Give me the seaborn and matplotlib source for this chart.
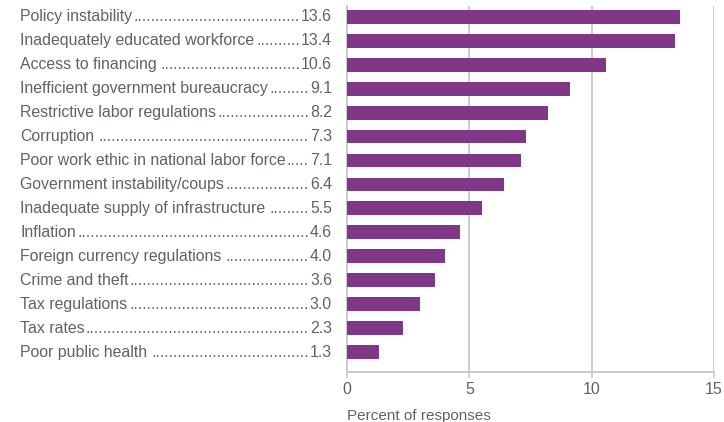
import matplotlib

matplotlib.use("Agg")

import matplotlib.pyplot as plt
import pandas as pd
import seaborn as sns

categories = [
    "Policy instability",
    "Inadequately educated workforce",
    "Access to financing",
    "Inefficient government bureaucracy",
    "Restrictive labor regulations",
    "Corruption",
    "Poor work ethic in national labor force",
    "Government instability/coups",
    "Inadequate supply of infrastructure",
    "Inflation",
    "Foreign currency regulations",
    "Crime and theft",
    "Tax regulations",
    "Tax rates",
    "Poor public health",
]
values = [13.6, 13.4, 10.6, 9.1, 8.2, 7.3, 7.1, 6.4, 5.5, 4.6, 4.0, 3.6, 3.0, 2.3, 1.3]
x_ticks = [0, 5, 10, 15]

BAR_COLOR = "#7f3786"
TEXT_COLOR = "#5d6369"
GRID_COLOR = "#c9cccf"

sns.set_theme(style="white")
plt.rcParams["font.family"] = ["Liberation Sans", "DejaVu Sans"]

frame = pd.DataFrame({"factor": categories, "pct": values})

W, H = 724, 422
fig = plt.figure(figsize=(W / 100, H / 100), dpi=100)
ax = fig.add_axes([347 / W, 1 - 372 / H, 367 / W, 366 / H])

sns.barplot(data=frame, x="pct", y="factor", color=BAR_COLOR, saturation=1,
            width=0.58, linewidth=0, ax=ax, zorder=3)

ax.set_xlim(0, 15)
ax.set_ylim(len(categories) - 0.17, -0.45)
ax.set_xticks(x_ticks)
ax.set_xticklabels([str(t) for t in x_ticks], fontsize=11.5, color=TEXT_COLOR)
ax.set_yticks([])
ax.set_ylabel("")
ax.set_xlabel("Percent of responses", fontsize=11, color=TEXT_COLOR, loc="left", labelpad=9)
ax.xaxis.grid(True, color=GRID_COLOR, linewidth=1.4, zorder=0)
ax.tick_params(axis="x", length=4, width=1.2, color=GRID_COLOR, pad=3, bottom=True)
for side in ["top", "right"]:
    ax.spines[side].set_visible(False)
for side in ["left", "bottom"]:
    ax.spines[side].set_color(GRID_COLOR)
    ax.spines[side].set_linewidth(1.4)

# labels with dotted leaders made of periods
renderer = fig.canvas.get_renderer()
left_px, right_px = 20, 332
fs = 11.4
probe = fig.text(0, 0, "." * 20, fontsize=fs)
dot_w = probe.get_window_extent(renderer).width / 20
probe.remove()
for i, (name, val) in enumerate(zip(categories, values)):
    y_fig = ax.transData.transform((0, i))[1] / H
    t_name = fig.text(left_px / W, y_fig, name, ha="left", va="center",
                      fontsize=fs, color=TEXT_COLOR)
    t_val = fig.text(right_px / W, y_fig, f"{val:.1f}", ha="right", va="center",
                     fontsize=fs, color=TEXT_COLOR)
    name_end = t_name.get_window_extent(renderer).x1
    val_start = t_val.get_window_extent(renderer).x0 - 1
    n_dots = int((val_start - name_end - 1) / dot_w)
    if n_dots > 0:
        fig.text(val_start / W, y_fig, "." * n_dots, ha="right", va="center",
                 fontsize=fs, color=TEXT_COLOR)

fig.savefig("out.png", dpi=100)
